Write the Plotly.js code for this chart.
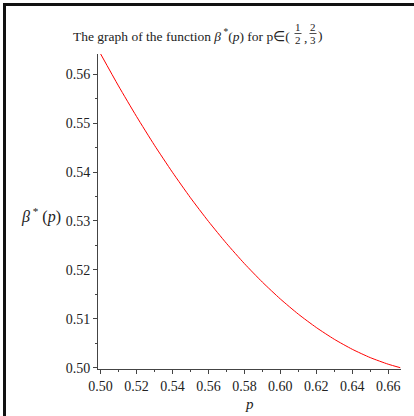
<!DOCTYPE html>
<html>
<head>
<meta charset="utf-8">
<script src="https://cdn.plot.ly/plotly-3.0.1.min.js"></script>
<style>html,body{margin:0;padding:0;background:#fff;}#chart{width:414px;height:416px;}</style>
</head>
<body>
<div id="chart"></div>
<script>
// p values and the function beta*(p)
const pValues = [0.50, 0.51, 0.52, 0.53, 0.54, 0.55, 0.56, 0.57, 0.58, 0.59, 0.60, 0.61, 0.62, 0.63, 0.64, 0.65, 0.66, 0.6667];
const betaValues = [0.56420, 0.55762, 0.55139, 0.54549, 0.53996, 0.53476, 0.52993, 0.52544, 0.52129, 0.51750, 0.51405, 0.51095, 0.50821, 0.50581, 0.50376, 0.50206, 0.50071, 0.50000];
const xTickVals = [0.50, 0.52, 0.54, 0.56, 0.58, 0.60, 0.62, 0.64, 0.66];
const yTickVals = [0.50, 0.51, 0.52, 0.53, 0.54, 0.55, 0.56];

const W = 414, H = 416;
const M = {l: 98, r: 13, t: 54, b: 47};
const PW = W - M.l - M.r, PH = H - M.t - M.b;
const px = x => (x - M.l) / PW;
const py = y => 1 - (y - M.t) / PH;

const serif = 'Liberation Serif, Times New Roman, serif';
const txt = '#222';

function ann(text, x, y, size, xanchor) {
  return {text: text, xref: 'paper', yref: 'paper', x: px(x), y: py(y),
    xanchor: xanchor || 'center', yanchor: 'middle', showarrow: false,
    font: {family: serif, size: size, color: txt}};
}

const annotations = [
  ann('The graph of the function <i>β</i><sup> *</sup>(<i>p</i>) for p∈(', 292, 36, 13.5, 'right'),
  ann('1', 298, 27, 11), ann('2', 298, 40, 11),
  ann(',', 305, 38, 13.5),
  ann('2', 313, 27, 11), ann('3', 313, 40, 11),
  ann(')', 320, 36, 13.5),
  ann('<i>β</i><sup> *</sup> (<i>p</i>)', 41, 216, 16),
  ann('<i>p</i>', 249, 404, 15)
];

const shapes = [
  {type: 'line', xref: 'paper', yref: 'paper', x0: px(294.5), x1: px(301.5), y0: py(33.5), y1: py(33.5), line: {color: txt, width: 0.8}},
  {type: 'line', xref: 'paper', yref: 'paper', x0: px(309.5), x1: px(316.5), y0: py(33.5), y1: py(33.5), line: {color: txt, width: 0.8}},
  {type: 'line', xref: 'paper', yref: 'paper', x0: px(3), x1: px(414), y0: py(4.5), y1: py(4.5), line: {color: '#111', width: 3}},
  {type: 'line', xref: 'paper', yref: 'paper', x0: px(4.5), x1: px(4.5), y0: py(3), y1: py(416), line: {color: '#111', width: 3}}
];

const axisCommon = {
  showgrid: false, zeroline: false, showline: true, linecolor: '#444', linewidth: 1,
  ticks: 'outside', ticklen: 4, tickwidth: 1, tickcolor: '#444',
  tickfont: {family: serif, size: 14, color: txt}, tickformat: '.2f', tickmode: 'array'
};

const layout = {
  width: W, height: H, margin: M, showlegend: false,
  paper_bgcolor: '#fff', plot_bgcolor: '#fff',
  xaxis: Object.assign({}, axisCommon, {range: [0.4986, 0.6671], tickvals: xTickVals,
    minor: {dtick: 0.01, tick0: 0.5, ticks: 'outside', ticklen: 2, tickcolor: '#444'}}),
  yaxis: Object.assign({}, axisCommon, {range: [0.49973, 0.56415], tickvals: yTickVals,
    minor: {dtick: 0.005, tick0: 0.5, ticks: 'outside', ticklen: 2, tickcolor: '#444'}}),
  annotations: annotations, shapes: shapes
};

Plotly.newPlot('chart', [{
  x: pValues, y: betaValues, type: 'scatter', mode: 'lines',
  line: {color: '#ff0000', width: 1, shape: 'spline', smoothing: 0.6},
  hoverinfo: 'skip'
}], layout, {displayModeBar: false, staticPlot: true});
</script>
</body>
</html>
